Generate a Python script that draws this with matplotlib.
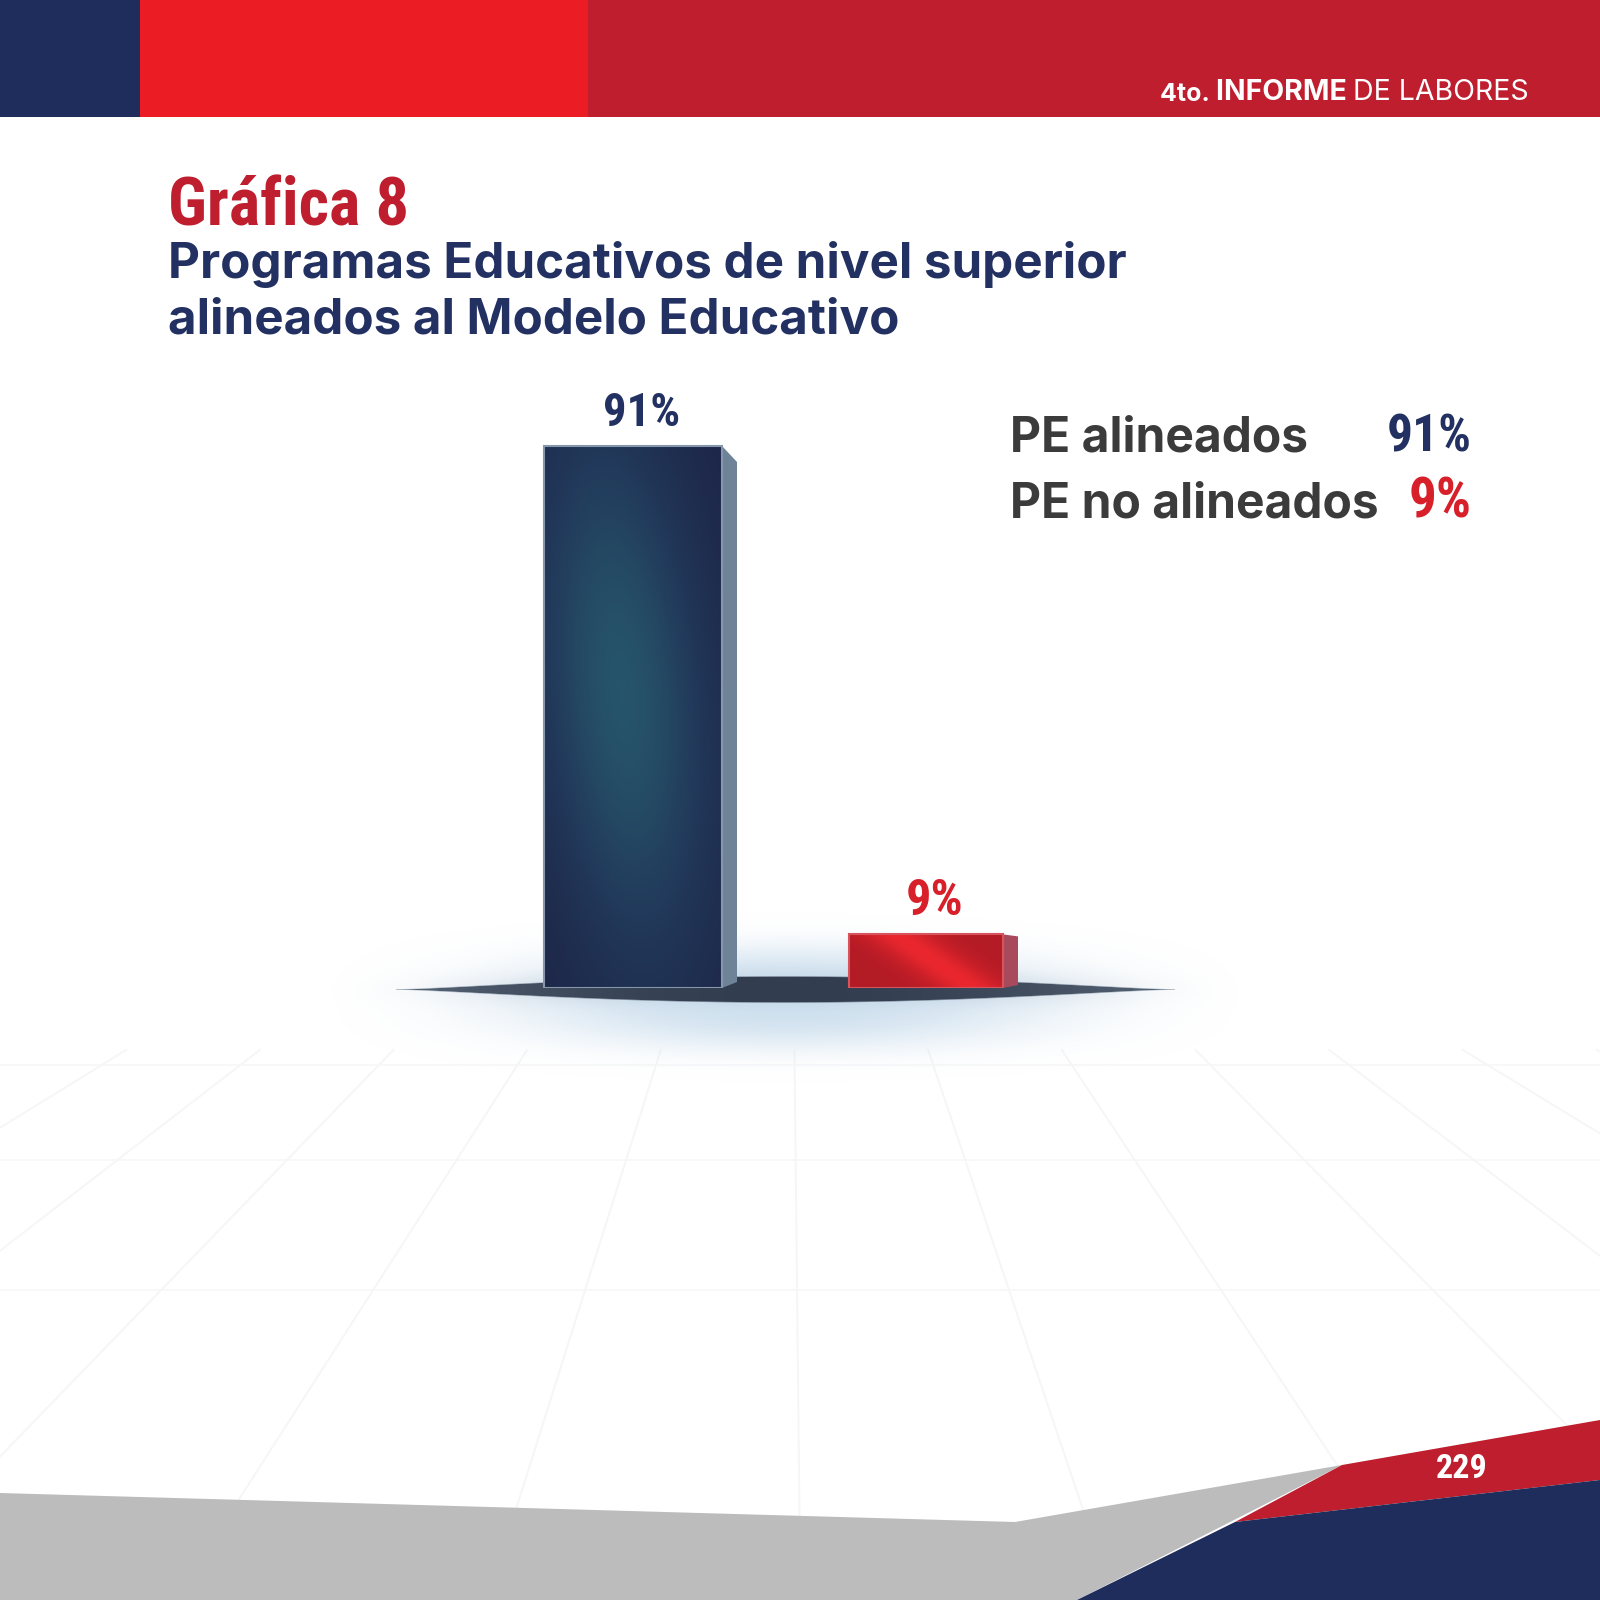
import os
import numpy as np
import matplotlib.pyplot as plt
import matplotlib.font_manager as fm
from matplotlib.patches import Polygon
from matplotlib.colors import LinearSegmentedColormap, to_rgb

# data
categorias = ['PE alineados', 'PE no alineados']
porcentajes = [91, 9]
etiquetas = ['91%', '9%']

NAVY = '#1f2d5c'
RED = '#be1e2d'
BRIGHT_RED = '#ec1c24'
TXT_NAVY = '#233162'
GRAY_TXT = '#3b3b3b'
BODY = ['Inter', 'DejaVu Sans']


def condensed_font():
    # look for a heavy condensed face, fall back to Liberation Sans bold
    prefs = ['notosans-extracondensedblack', 'notosans-extracondensedextrabold',
             'notosans-extracondensedbold', 'notosans-condensedblack',
             'notosans-condensedextrabold', 'notosans-condensedbold',
             'robotocondensed-bold', 'liberationsansnarrow-bold']
    files = {os.path.basename(f.fname).lower().split('.')[0]: f.fname
             for f in fm.fontManager.ttflist}
    for p in prefs:
        if p in files:
            return fm.FontProperties(fname=files[p]), True
    for f in fm.fontManager.ttflist:
        if f.stretch not in ('normal', 500) and 'expand' not in str(f.stretch) \
                and f.weight in ('bold', 700, 800, 900, 'heavy', 'black'):
            return fm.FontProperties(fname=f.fname), True
    return fm.FontProperties(family='Liberation Sans', weight='bold'), False


COND, IS_COND = condensed_font()

fig = plt.figure(figsize=(16, 16), dpi=100)
renderer = fig.canvas.get_renderer()
bg = fig.add_axes([0, 0, 1, 1], zorder=0)
bg.set_xlim(0, 1600)
bg.set_ylim(1600, 0)
bg.axis('off')


def fit(t, target_w):
    # shrink a condensed label so it keeps roughly the reference width
    w = t.get_window_extent(renderer).width
    if w > target_w:
        t.set_fontsize(t.get_fontsize() * (target_w / w) ** 0.75)
    return t


# faint perspective floor lines
vx, vy = 790, 640
for xb in np.linspace(-1000, 2600, 13):
    t = np.array([(1050 - vy) / (1560 - vy), 1.0])
    bg.plot(vx + (xb - vx) * t, vy + (1560 - vy) * t, color='#f6f6f6', lw=1.4, zorder=1)
for yy in [1065, 1160, 1290]:
    bg.plot([0, 1600], [yy, yy], color='#f7f7f7', lw=1.2, zorder=1)

# header band
bg.add_patch(Polygon([[0, 0], [140, 0], [140, 117], [0, 117]], color=NAVY, lw=0))
bg.add_patch(Polygon([[140, 0], [588, 0], [588, 117], [140, 117]], color=BRIGHT_RED, lw=0))
bg.add_patch(Polygon([[588, 0], [1600, 0], [1600, 117], [588, 117]], color=RED, lw=0))
t3 = bg.text(1529, 100, 'DE LABORES', color='white', fontsize=20.5, family=BODY,
             ha='right', va='baseline')
t2 = bg.annotate('INFORME ', xy=(0, 0), xycoords=t3, color='white', fontsize=20.5,
                 family=BODY, fontweight='bold', ha='right', va='bottom')
bg.annotate('4to. ', xy=(0, 0), xycoords=t2, color='white', fontsize=18,
            family=BODY, fontweight='bold', ha='right', va='bottom')

# titles
fit(bg.text(168, 226, 'Gráfica 8', color=RED, fontsize=58, fontproperties=COND,
            va='baseline'), 225)
bg.text(168, 278, 'Programas Educativos de nivel superior', color=TXT_NAVY,
        fontsize=35.5, family=BODY, fontweight='bold', va='baseline')
bg.text(168, 334, 'alineados al Modelo Educativo', color=TXT_NAVY,
        fontsize=35.5, family=BODY, fontweight='bold', va='baseline')

# legend
colores_txt = [TXT_NAVY, '#d7202a']
ley_w = [79, 60]
for i, (c, e) in enumerate(zip(categorias, etiquetas)):
    y = 452 + i * 66
    bg.text(1010, y, c, color=GRAY_TXT, fontsize=34.5, family=BODY,
            fontweight='bold', va='baseline')
    fit(bg.text(1472, y, e, color=colores_txt[i], fontsize=46, fontproperties=COND,
                va='baseline', ha='right'), ley_w[i])

# shadow / glow under bars
x0, x1, y0, y1 = 150, 1420, 820, 1160
X, Y = np.meshgrid(np.arange(x0, x1), np.arange(y0, y1))
cx, cy, a = 785, 989, 390
dx = (X - cx) / a
win = np.clip(1 - (np.abs(X - cx) / 470) ** 2, 0, 1) ** 1.5
r2 = ((X - cx) / 380) ** 2 + ((Y - cy - 8) / 50) ** 2
glow = 0.85 * np.exp(-r2 ** 1.6) * win
glow2 = 0.7 * np.exp(-((X - cx) / 300) ** 2 - ((Y - cy) / 14) ** 2) * win
h = 13 * np.clip(1 - dx ** 2, 0, None) ** 1.3
lens = np.clip((h - np.abs(Y - cy)) / 1.5 + 0.5, 0, 1) * (np.abs(dx) < 1)
glow_c = np.array(to_rgb('#c6dbec'))
glow2_c = np.array(to_rgb('#7d92a8'))
k = np.abs(dx)[..., None] ** 2
lens_c = np.array(to_rgb('#323e50')) * (1 - 0.55 * k) + np.array(to_rgb('#7a8898')) * 0.55 * k
ga = glow + glow2 * (1 - glow)
gc = (glow_c * glow[..., None] + glow2_c * (glow2 * (1 - glow))[..., None]) \
    / np.maximum(ga, 1e-6)[..., None]
rgb = lens_c * lens[..., None] + gc * (1 - lens[..., None])
alpha = lens + ga * (1 - lens)
img = np.dstack([rgb, np.clip(alpha, 0, 1)])
bg.imshow(img, extent=(x0, x1, y1, y0), zorder=2, interpolation='bilinear')
bg.set_xlim(0, 1600)
bg.set_ylim(1600, 0)
bg.set_aspect('auto')

# bottom shapes
bg.add_patch(Polygon([[0, 1493], [1015, 1522], [1342, 1465], [1077, 1600], [0, 1600]],
                     color='#bcbcbc', lw=0, zorder=3))
bg.add_patch(Polygon([[1342, 1465], [1600, 1420], [1600, 1480], [1235, 1522]],
                     color=RED, lw=0, zorder=3))
bg.add_patch(Polygon([[1235, 1522], [1600, 1480], [1600, 1600], [1077, 1600]],
                     color=NAVY, lw=0, zorder=3))
fit(bg.text(1462, 1478, '229', color='white', fontsize=27, fontproperties=COND,
            ha='center', va='baseline', zorder=4), 50)

# bar chart axes
px_unit = 293.0
ax = fig.add_axes([400 / 1600, 1 - 988 / 1600, 780 / 1600, 595.6 / 1600], zorder=2)
ax.set_xlim((400 - 633) / px_unit, (1180 - 633) / px_unit)
ax.set_ylim(0, 100)
ax.axis('off')
ax.patch.set_alpha(0)

xs = np.arange(len(porcentajes))
widths = [178 / px_unit, 154 / px_unit]
cmaps = [LinearSegmentedColormap.from_list('n', ['#1d2547', '#223a5b', '#26546a']),
         LinearSegmentedColormap.from_list('r', ['#b31b25', '#cc2029', '#ea272e'])]
side_cols = ['#6f8398', '#a84a5c']
edge_cols = ['#8797ab', '#d8545c']
side_dx = [15, 15]
side_dy_top = [16, 2]
side_dy_bot = [6, 3]
lab_w = [73, 56]
pct_px = 595.6 / 100

bars = ax.bar(xs, porcentajes, width=widths, color=['#223658', '#cf2129'], zorder=3)
for i, b in enumerate(bars):
    xl, w, v = b.get_x(), b.get_width(), b.get_height()
    xr = xl + w
    u, vv = np.meshgrid(np.linspace(0, 1, 120), np.linspace(0, 1, 240))
    if i == 0:
        cu = 0.45 - 0.25 * (vv - 0.5)
        g = np.exp(-(u - cu) ** 2 / 0.22) * np.exp(-((vv - 0.55) / 0.5) ** 2)
    else:
        g = np.exp(-((u - 0.55) + 0.5 * (vv - 0.5)) ** 2 / 0.06)
    im = ax.imshow(g, cmap=cmaps[i], extent=(xl, xr, 0, v), aspect='auto',
                   zorder=3, origin='lower', vmin=0, vmax=1)
    im.set_clip_path(b)
    b.set_edgecolor(edge_cols[i])
    b.set_linewidth(1.5)
    b.set_zorder(4)
    b.set_facecolor('none')
    ddx = side_dx[i] / px_unit
    ax.add_patch(Polygon([[xr, v], [xr + ddx, v - side_dy_top[i] / pct_px],
                          [xr + ddx, side_dy_bot[i] / pct_px], [xr, 0]],
                         color=side_cols[i], lw=0, zorder=3))
    fit(ax.annotate(etiquetas[i], xy=(xs[i], v), xytext=(6, 24), textcoords='offset points',
                    ha='center', va='center', color=colores_txt[i], fontsize=40,
                    fontproperties=COND, annotation_clip=False), lab_w[i])

fig.savefig('out.png', dpi=100)
